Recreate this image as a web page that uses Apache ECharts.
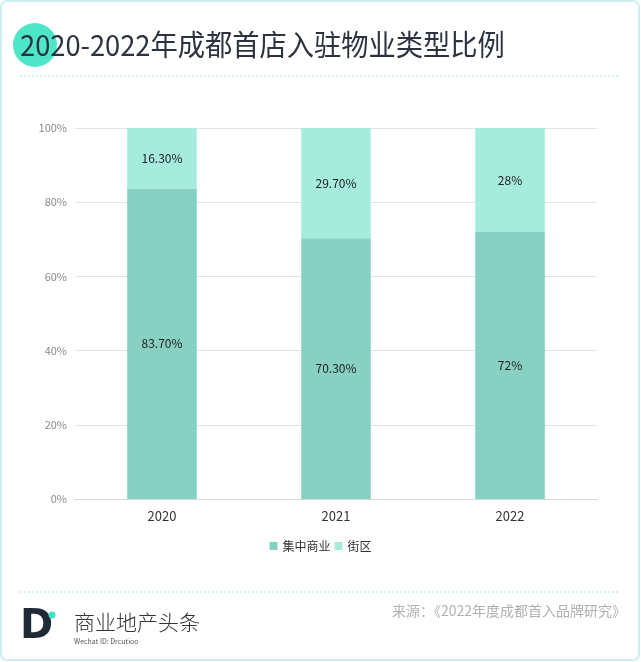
<!DOCTYPE html>
<html><head><meta charset="utf-8">
<script src="https://cdn.jsdelivr.net/npm/echarts@6/dist/echarts.min.js"></script>
<style>html,body{margin:0;padding:0;background:#fff}#c{width:641px;height:662px}</style>
</head><body><div id="c"></div>
<script>
const categories = ['2020', '2021', '2022'];
const mallValues = [83.7, 70.3, 72];
const streetValues = [16.3, 29.7, 28];
const mallLabels = ['83.70%', '70.30%', '72%'];
const streetLabels = ['16.30%', '29.70%', '28%'];
const seriesNames = ['集中商业', '街区'];
const yTicks = [0, 20, 40, 60, 80, 100];

const chart = echarts.init(document.getElementById('c'));
const font = '"Microsoft YaHei","Noto Sans CJK SC","Noto Sans",sans-serif';
chart.setOption({
  animation: false,
  textStyle: {fontFamily: font},
  graphic: [
    {type: 'rect', shape: {x: 1, y: 1, width: 638, height: 659, r: 6}, style: {fill: 'none', stroke: '#cdeff0', lineWidth: 2}, z: 0},
    {type: 'circle', shape: {cx: 35, cy: 45, r: 22}, style: {fill: '#4ee6c9'}, z: 1},
    {type: 'text', x: 20, y: 45, scaleX: 0.94, style: {text: '2020-2022年成都首店入驻物业类型比例', font: '29px ' + font, fill: '#2b3340', textVerticalAlign: 'middle'}, z: 2},
    {type: 'line', shape: {x1: 20, y1: 76, x2: 620, y2: 76}, style: {stroke: '#9fe8dc', lineWidth: 1, lineDash: [2, 2]}, z: 1},
    {type: 'line', shape: {x1: 20, y1: 592, x2: 620, y2: 592}, style: {stroke: '#9fe8dc', lineWidth: 1, lineDash: [2, 2]}, z: 1},
    {type: 'text', x: 20, y: 628, style: {text: 'D', font: 'bold 40px "DejaVu Sans",sans-serif', fill: '#1f2a36', textVerticalAlign: 'middle'}, z: 2},
    {type: 'circle', shape: {cx: 52, cy: 615, r: 3.5}, style: {fill: '#3fe0c3'}, z: 2},
    {type: 'text', x: 74, y: 622, style: {text: '商业地产头条', font: '300 21px ' + font, fill: '#333', textVerticalAlign: 'middle'}, z: 2},
    {type: 'text', x: 74, y: 641, style: {text: 'Wechat ID: Drcutioo', font: '7px ' + font, fill: '#555', textVerticalAlign: 'middle'}, z: 2},
    {type: 'text', x: 626, y: 611, style: {text: '来源：《2022年度成都首入品牌研究》', font: '14px ' + font, fill: '#b0b0b0', textAlign: 'right', textVerticalAlign: 'middle'}, z: 2}
  ],
  legend: {
    data: seriesNames, top: 535, left: 'center', itemWidth: 8, itemHeight: 8, itemGap: 4,
    icon: 'rect', textStyle: {fontSize: 12, color: '#333', fontFamily: font}
  },
  grid: {left: 75, right: 44, top: 128, bottom: 163},
  xAxis: {
    type: 'category', data: categories,
    axisLine: {lineStyle: {color: '#d9d9d9'}}, axisTick: {show: false},
    axisLabel: {fontSize: 13, color: '#333', margin: 11}
  },
  yAxis: {
    type: 'value', min: 0, max: 100, interval: 20,
    axisLabel: {formatter: v => yTicks.includes(v) ? v + '%' : '', fontSize: 11, color: '#8a8a8a', margin: 8},
    splitLine: {lineStyle: {color: '#e3e3e3'}}, axisLine: {show: false}, axisTick: {show: false}
  },
  series: [
    {name: seriesNames[0], type: 'bar', stack: 's', barWidth: '40%', data: mallValues,
     itemStyle: {color: '#88d1c2'},
     label: {show: true, position: 'inside', color: '#222', fontSize: 12, formatter: p => mallLabels[p.dataIndex]}},
    {name: seriesNames[1], type: 'bar', stack: 's', barWidth: '40%', data: streetValues,
     itemStyle: {color: '#a6ecdd'},
     label: {show: true, position: 'inside', color: '#222', fontSize: 12, formatter: p => streetLabels[p.dataIndex]}}
  ]
});
</script></body></html>
